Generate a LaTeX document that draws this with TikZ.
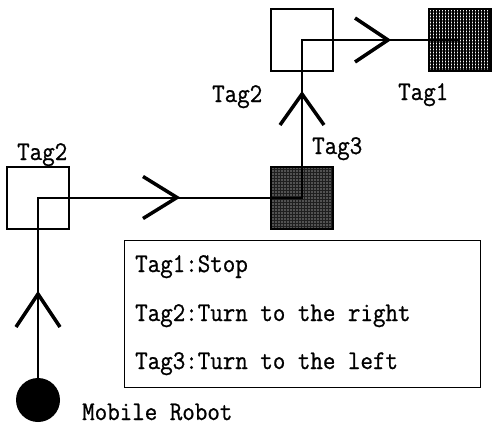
\documentclass[tikz,border=0pt]{standalone}
\usepackage{fontspec}
\newfontfamily\tagfont{Latin Modern Mono}[FakeStretch=0.9, FakeBold=0.8]
\usetikzlibrary{patterns.meta}
\begin{document}
\begin{tikzpicture}[x=1pt,y=-1pt,
  every node/.style={font=\fontsize{27}{32}\selectfont\tagfont},
  tagbox/.style={draw, line width=2pt, minimum size=62pt, inner sep=0pt},
  route/.style={line width=2pt},
  chev/.style={line width=3.5pt, line join=miter},
  lbl/.style={anchor=base west, inner sep=0pt}
]
\useasboundingbox (0,0) rectangle (494,426);

% tags along the route
\node[tagbox] (tagA) at (38,197.5) {};
\node[tagbox, preaction={fill=black!88},
      pattern={Dots[distance=3pt, radius=0.6pt]}, pattern color=white] (tagC) at (302,197.5) {};
\node[tagbox] (tagB) at (302,40) {};
\node[tagbox, preaction={fill=white},
      preaction={pattern={Lines[angle=0, distance=3pt, line width=1.1pt]}},
      pattern={Lines[angle=90, distance=3pt, line width=1.1pt]}] (tag1) at (460,40) {};

% robot
\node[circle, fill=black, minimum size=44pt, inner sep=0pt] (robot) at (38,400) {};

% route of the robot
\draw[route] (robot) -- (tagA.center) -- (tagC.center) -- (tagB.center) -- (tag1.center);

% direction marks
\coordinate (c1) at (38,294);
\coordinate (c2) at (177,197.5);
\coordinate (c3) at (302,94);
\coordinate (c4) at (388,40);
\draw[chev] ([shift={(-22,33)}]c1) -- (c1) -- ([shift={(22,33)}]c1);
\draw[chev] ([shift={(-34,-21)}]c2) -- (c2) -- ([shift={(-34,21)}]c2);
\draw[chev] ([shift={(-22,31)}]c3) -- (c3) -- ([shift={(22,31)}]c3);
\draw[chev] ([shift={(-33,-22)}]c4) -- (c4) -- ([shift={(-33,22)}]c4);

% labels
\node[lbl] (lA) at (17,160) {Tag2};
\node[lbl] (lC) at (312,154) {Tag3};
\node[lbl] (lB) at (212,102) {Tag2};
\node[lbl] (l1) at (398,100) {Tag1};
\node[lbl] (lr) at (82,420) {Mobile Robot};

% legend
\node[draw, line width=1.2pt, minimum width=356pt, minimum height=147pt, inner sep=0pt] (legend) at (302.5,314) {};
\node[lbl] (t1) at (135,272) {Tag1:Stop};
\node[lbl] (t2) at (135,321) {Tag2:Turn to the right};
\node[lbl] (t3) at (135,369) {Tag3:Turn to the left};
\end{tikzpicture}
\end{document}
